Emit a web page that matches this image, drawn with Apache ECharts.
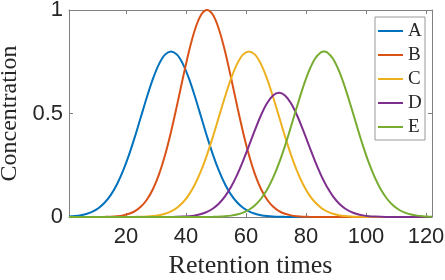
<!DOCTYPE html>
<html>
<head>
<meta charset="utf-8">
<script src="https://cdn.jsdelivr.net/npm/echarts@6/dist/echarts.min.js"></script>
<style>html,body{margin:0;padding:0;background:#fff}#c{width:445px;height:280px}</style>
</head>
<body>
<div id="c"></div>
<script>
const times = [1,3,5,7,9,11,13,15,17,19,21,23,25,27,29,31,33,35,37,39,41,43,45,47,49,51,53,55,57,59,61,63,65,67,69,71,73,75,77,79,81,83,85,86,87,89,91,93,95,97,99,101,103,105,107,109,111,113,115,117,119,121,122];
const seriesNames = ['A','B','C','D','E'];
const valsA = [0.0025,0.0048,0.0089,0.0158,0.0272,0.0449,0.0711,0.1083,0.1583,0.2224,0.3002,0.3894,0.4852,0.5809,0.6682,0.7385,0.7842,0.8,
  0.7842,0.7385,0.6682,0.5809,0.4852,0.3894,0.3002,0.2224,0.1583,0.1083,0.0711,0.0449,0.0272,0.0158,0.0089,0.0048,0.0025,0.0012,0.0006,0.0003,
  0,0,0,0,0,0,0,0,0,0,0,0,0,0,0,0,0,0,0,0,0,0,0,0,0];
const valsB = [0,0,0,0.0001,0.0001,0.0003,0.0008,0.0018,0.0039,0.0079,0.0154,0.0286,0.0504,0.0847,0.1353,0.2059,0.2982,0.4111,0.5394,0.6736,0.8007,0.9060,0.9756,1,
  0.9756,0.9060,0.8007,0.6736,0.5394,0.4111,0.2982,0.2059,0.1353,0.0847,0.0504,0.0286,0.0154,0.0079,0.0039,0.0018,0.0008,0.0003,0.0001,0.0001,0.0001,
  0,0,0,0,0,0,0,0,0,0,0,0,0,0,0,0,0,0];
const valsC = [0,0,0,0,0,0,0,0,0,0,
  0.0003,0.0006,0.0012,0.0025,0.0048,0.0089,0.0158,0.0272,0.0449,0.0711,0.1083,0.1583,0.2224,0.3002,0.3894,0.4852,0.5809,0.6682,0.7385,0.7842,0.8,
  0.7842,0.7385,0.6682,0.5809,0.4852,0.3894,0.3002,0.2224,0.1583,0.1083,0.0711,0.0449,0.0351,0.0272,0.0158,0.0089,0.0048,0.0025,0.0012,0.0006,0.0003,
  0,0,0,0,0,0,0,0,0,0,0];
const valsD = [0,0,0,0,0,0,0,0,0,0,0,0,0,0,0,0,
  0.0002,0.0005,0.0010,0.0021,0.0041,0.0078,0.0142,0.0247,0.0411,0.0654,0.0997,0.1453,0.2026,0.2702,0.3448,0.4209,0.4915,0.5491,0.5869,0.6,
  0.5869,0.5491,0.4915,0.4209,0.3448,0.2702,0.2026,0.1725,0.1453,0.0997,0.0654,0.0411,0.0247,0.0142,0.0078,0.0041,0.0021,0.0010,0.0005,0.0002,0.0001,
  0,0,0,0,0,0];
const valsE = [0,0,0,0,0,0,0,0,0,0,0,0,0,0,0,0,0,0,0,0,0,0,
  0.0002,0.0004,0.0009,0.0018,0.0034,0.0066,0.0119,0.0209,0.0351,0.0568,0.0882,0.1316,0.1886,0.2598,0.3437,0.4369,0.5336,0.6262,0.7060,0.7648,0.7960,0.8,
  0.7960,0.7648,0.7060,0.6262,0.5336,0.4369,0.3437,0.2598,0.1886,0.1316,0.0882,0.0568,0.0351,0.0209,0.0119,0.0066,0.0034,0.0018,0.0012];
const xTicks = [20,40,60,80,100,120];
const yTicks = [0,0.5,1];
const xTitle = 'Retention times';
const yTitle = 'Concentration';

const colors = ['#0072BD','#D95319','#EDB120','#7E2F8E','#77AC30'];
const allVals = [valsA,valsB,valsC,valsD,valsE];
const boxColor = '#808080';
const labelColor = '#262626';

const chart = echarts.init(document.getElementById('c'), null, {renderer:'canvas'});
const baseX = {
  type:'value', min:1, max:122,
  splitLine:{show:false},
  axisLine:{show:true, onZero:false, lineStyle:{color:boxColor, width:1}},
  axisTick:{show:true, inside:true, length:4, customValues:xTicks, lineStyle:{color:boxColor}},
};
const baseY = {
  type:'value', min:0, max:1, interval:0.5,
  splitLine:{show:false},
  axisLine:{show:true, onZero:false, lineStyle:{color:boxColor, width:1}},
  axisTick:{show:true, inside:true, length:4, customValues:yTicks, lineStyle:{color:boxColor}},
};
chart.setOption({
  animation:false,
  backgroundColor:'#fff',
  grid:{left:69, right:13, top:10, bottom:63, containLabel:false, outerBoundsMode:'none'},
  xAxis:[
    Object.assign({}, baseX, {position:'bottom',
      name:xTitle, nameLocation:'middle', nameGap:31,
      nameTextStyle:{fontFamily:'Liberation Serif', fontSize:26, color:labelColor},
      axisLabel:{show:true, customValues:xTicks, margin:9, fontFamily:'Liberation Sans', fontSize:22, color:labelColor}}),
    Object.assign({}, baseX, {position:'top', axisLabel:{show:false}})
  ],
  yAxis:[
    Object.assign({}, baseY, {position:'left',
      name:yTitle, nameLocation:'middle', nameGap:45,
      nameTextStyle:{fontFamily:'Liberation Serif', fontSize:24, color:labelColor},
      axisLabel:{show:true, customValues:yTicks, margin:6, fontFamily:'Liberation Sans', fontSize:22, color:labelColor,
        formatter:function(v){return String(v);}}}),
    Object.assign({}, baseY, {position:'right', axisLabel:{show:false}})
  ],
  legend:{
    orient:'vertical', left:375, top:17,
    padding:[4,3,3,3],
    icon:'rect',
    itemWidth:25, itemHeight:2, itemGap:4,
    backgroundColor:'#fff', borderColor:'#999', borderWidth:1, borderRadius:0,
    textStyle:{fontFamily:'Liberation Serif', fontSize:19, color:labelColor, lineHeight:20, width:14},
    data:seriesNames
  },
  series: seriesNames.map((n,i)=>({
    name:n, type:'line', symbol:'none', smooth:0.35,
    data: times.map((t,j)=>[t, allVals[i][j]]),
    lineStyle:{color:colors[i], width:2},
    itemStyle:{color:colors[i]},
    clip:true
  }))
});
</script>
</body>
</html>
